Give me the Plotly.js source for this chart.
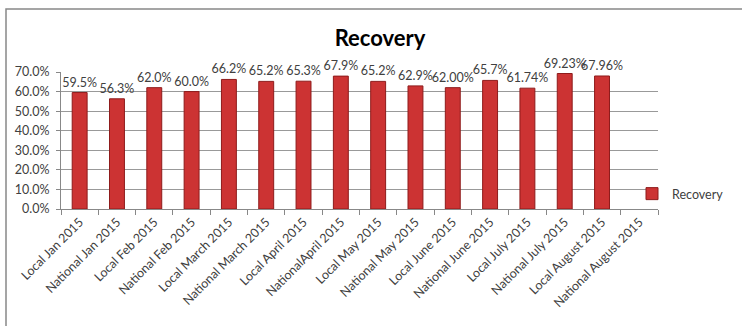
<!DOCTYPE html>
<html>
<head>
<meta charset="utf-8">
<script src="https://cdn.plot.ly/plotly-3.0.1.min.js"></script>
<style>
html,body{margin:0;padding:0;background:#fff;}
#chart{width:742px;height:326px;}
</style>
</head>
<body>
<div id="chart"></div>
<script>
const categories = ["Local Jan 2015","National Jan 2015","Local Feb 2015","National Feb 2015","Local March 2015","National March 2015","Local April 2015","NationalApril 2015","Local May 2015","National May 2015","Local June 2015","National June 2015","Local July 2015","National July 2015","Local August 2015","National August 2015"];
const recovery = [0.595,0.563,0.620,0.600,0.662,0.652,0.653,0.679,0.652,0.629,0.6200,0.657,0.6174,0.6923,0.6796,null];
const labels = ["59.5%","56.3%","62.0%","60.0%","66.2%","65.2%","65.3%","67.9%","65.2%","62.9%","62.00%","65.7%","61.74%","69.23%","67.96%",""];
const yTicks = [0,0.1,0.2,0.3,0.4,0.5,0.6,0.7];

const W = 742, H = 326, ml = 61, mr = 84, mt = 72, mb = 117;
const pw = W - ml - mr, ph = H - mt - mb;

const trace = {
  type: 'bar',
  name: 'Recovery',
  x: categories,
  y: recovery,
  text: labels,
  textposition: 'outside',
  texttemplate: '%{text}',
  constraintext: 'none',
  cliponaxis: false,
  textfont: {family: 'Lato, sans-serif', size: 12.5, color: '#404040'},
  marker: {color: '#cc3333', line: {color: '#8e1b1b', width: 1}},
  hoverinfo: 'x+y'
};

const layout = {
  width: W, height: H,
  margin: {l: ml, r: mr, t: mt, b: mb, pad: 0},
  paper_bgcolor: '#fff', plot_bgcolor: '#fff',
  font: {family: 'Lato, sans-serif', color: '#404040'},
  title: {text: '<b>Recovery</b>', x: 380 / W, xref: 'container', xanchor: 'center', y: 1 - 38 / H, yref: 'container', yanchor: 'middle', font: {family: 'Lato, sans-serif', size: 22, color: '#000'}},
  bargap: 0.6,
  showlegend: true,
  legend: {x: (632 - ml) / pw, xanchor: 'left', y: 15 / ph, yanchor: 'middle', itemwidth: 30, font: {size: 12.5, color: '#404040'}, bgcolor: 'rgba(0,0,0,0)'},
  xaxis: {
    type: 'category', tickangle: -45, tickson: 'boundaries', ticks: 'outside', ticklen: 5, tickcolor: '#888',
    showline: true, linecolor: '#888', linewidth: 1, showgrid: false,
    tickfont: {size: 12.5, color: '#404040'}, automargin: false
  },
  yaxis: {
    range: [0, 0.7], tickvals: yTicks, tickformat: '.1%', showgrid: true, gridcolor: '#999', gridwidth: 1,
    showline: true, linecolor: '#888', ticks: 'outside', ticklen: 4, tickcolor: '#888', zeroline: false,
    tickfont: {size: 12.5, color: '#404040'}, automargin: false, ticklabelstandoff: 4
  },
  shapes: [{
    type: 'rect', xref: 'paper', yref: 'paper',
    x0: (6 - ml) / pw, x1: (W + 20 - ml) / pw,
    y0: (H - mb - (H + 20)) / ph, y1: (H - mb - 9) / ph,
    line: {color: '#888', width: 1.5}, fillcolor: 'rgba(0,0,0,0)', layer: 'below'
  }]
};

Plotly.newPlot('chart', [trace], layout, {displayModeBar: false, staticPlot: true});
</script>
</body>
</html>
